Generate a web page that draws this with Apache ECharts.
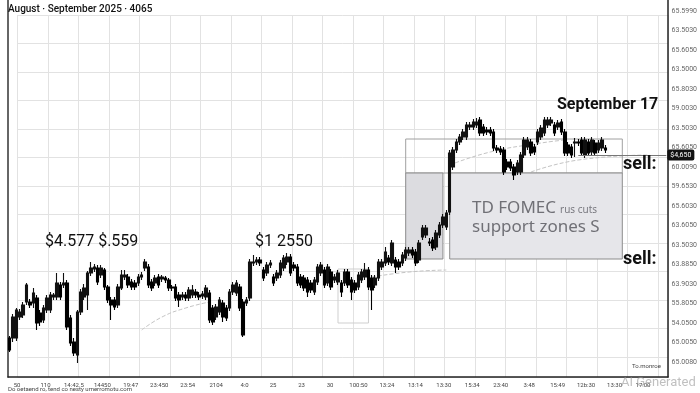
<!DOCTYPE html>
<html><head><meta charset="utf-8">
<script src="https://cdn.jsdelivr.net/npm/echarts@6/dist/echarts.min.js"></script>
<style>html,body{margin:0;padding:0;background:#fff}#c{width:700px;height:393px}</style>
</head><body><div id="c"></div>
<script>
// ---- data ----
const opens=[4284,4284,4284,4326,4330,4356,4356,4354,4364,4334,
4320,4340,4340,4366,4366,4390,4390,4394,4324,4276,
4250,4336,4366,4370,4414,4422,4424,4410,4420,4386,
4360,4360,4350,4384,4406,4406,4396,4394,4394,4406,
4424,4426,4396,4394,4406,4402,4404,4400,4386,4386,
4370,4366,4370,4364,4370,4376,4370,4368,4366,4374,
4344,4326,4336,4354,4344,4344,4376,4374,4386,4356,
4354,4364,4434,4436,4440,4420,4414,4430,4406,4404,
4410,4424,4436,4446,4430,4426,4406,4404,4400,4394,
4376,4396,4414,4420,4394,4416,4400,4396,4394,4394,
4416,4400,4394,4386,4400,4406,4420,4404,4390,4404,
4426,4434,4444,4434,4440,4436,4434,4444,4454,4460,
4456,4440,4486,4490,4476,4480,4466,4490,4510,4506,
4536,4626,4660,4676,4686,4686,4706,4706,4710,4720,
4706,4700,4700,4696,4664,4662,4660,4636,4636,4626,
4616,4616,4650,4666,4676,4666,4676,4686,4694,4710,
4714,4710,4706,4716,4696,4670,4666,4674,4676,4680,
4650,4676,4656,4674,4660,4664,4664];
const closes=[4260,4326,4340,4336,4350,4390,4350,4374,4314,4316,
4344,4364,4370,4370,4394,4366,4394,4306,4274,4254,
4336,4376,4384,4414,4424,4426,4396,4424,4386,4360,
4350,4346,4386,4410,4410,4390,4386,4386,4406,4410,
4436,4390,4384,4404,4390,4406,4400,4384,4384,4364,
4360,4370,4364,4380,4380,4370,4366,4372,4384,4320,
4316,4346,4360,4326,4324,4376,4390,4394,4344,4290,
4360,4436,4436,4440,4434,4404,4430,4434,4394,4414,
4434,4444,4446,4414,4424,4394,4390,4384,4376,4380,
4400,4426,4430,4390,4426,4386,4406,4414,4376,4416,
4390,4376,4380,4410,4416,4420,4386,4380,4404,4436,
4436,4456,4436,4474,4426,4426,4450,4460,4460,4450,
4434,4474,4504,4504,4474,4464,4494,4510,4526,4534,
4654,4660,4676,4686,4696,4710,4710,4716,4716,4694,
4694,4696,4694,4664,4660,4656,4616,4626,4624,4610,
4634,4650,4680,4680,4654,4656,4696,4704,4720,4720,
4720,4694,4714,4696,4654,4654,4650,4676,4674,4654,
4680,4654,4680,4654,4674,4680,4660];
const lows=[4256,4276,4278,4320,4324,4350,4344,4344,4300,4308,
4314,4334,4334,4360,4360,4360,4384,4300,4268,4248,
4234,4330,4360,4340,4408,4416,4390,4404,4380,4354,
4320,4340,4344,4380,4400,4384,4380,4380,4388,4400,
4418,4384,4378,4388,4384,4396,4394,4378,4378,4358,
4346,4360,4358,4358,4364,4364,4360,4362,4360,4314,
4310,4320,4330,4316,4318,4338,4370,4368,4338,4286,
4348,4358,4428,4430,4428,4398,4408,4424,4388,4398,
4404,4418,4430,4408,4418,4388,4384,4378,4366,4374,
4370,4390,4408,4384,4388,4380,4394,4390,4366,4388,
4384,4360,4374,4380,4394,4400,4380,4340,4384,4398,
4420,4428,4430,4428,4414,4420,4428,4438,4448,4444,
4428,4434,4480,4484,4468,4458,4460,4484,4504,4500,
4530,4620,4654,4670,4680,4680,4700,4700,4704,4688,
4688,4690,4688,4658,4654,4650,4610,4620,4618,4600,
4610,4610,4644,4660,4648,4650,4670,4680,4688,4704,
4708,4688,4700,4690,4648,4648,4644,4646,4668,4648,
4644,4648,4650,4648,4654,4658,4654];
const highs=[4288,4332,4344,4342,4356,4394,4362,4384,4370,4340,
4350,4370,4376,4374,4414,4396,4414,4400,4330,4284,
4340,4382,4392,4418,4436,4432,4430,4430,4424,4390,
4366,4366,4392,4420,4420,4412,4402,4400,4412,4416,
4442,4432,4402,4410,4412,4410,4408,4404,4390,4392,
4376,4376,4376,4386,4390,4382,4376,4378,4390,4380,
4350,4352,4366,4360,4350,4382,4396,4400,4392,4362,
4366,4442,4450,4446,4446,4426,4436,4440,4412,4420,
4440,4450,4454,4452,4436,4432,4412,4410,4406,4400,
4406,4432,4436,4426,4432,4422,4412,4420,4400,4422,
4422,4406,4400,4416,4422,4434,4426,4410,4410,4442,
4442,4466,4450,4480,4446,4442,4456,4466,4466,4466,
4462,4480,4510,4510,4484,4486,4500,4516,4532,4540,
4660,4666,4682,4692,4702,4716,4716,4722,4724,4726,
4712,4706,4706,4702,4670,4668,4666,4642,4642,4632,
4640,4656,4686,4686,4682,4672,4702,4710,4726,4726,
4726,4716,4720,4722,4702,4676,4672,4684,4682,4686,
4686,4682,4686,4680,4680,4686,4670];
const tailSlots=18; // empty sessions to the right of the last candle
const priceMin=4206, priceMax=4960;
const rightTickLabels=["65.5990","63.5030","65.6050","63.5000","65.8030","59.0030","63.5030","65.6050","60.0090","59.6530","65.6030","63.6050","63.5030","63.8850","63.9030","55.8050","54.0500","65.0050","65.0080"];
const bottomTickLabels=["50","110","14:42.5","14450","19:47","23:450","23:54","2104","4:0","25","23","30","100:50","13:24","13:14","13:30","15:34","23:40","3:48","15:49","12b:30","13:30","17:00"];
const maA=[[39,4300],[45,4326],[52,4344],[59,4356]];
const maB=[[107,4406],[118,4416],[129,4420]];
const maC=[[130,4630],[142,4656],[157,4674],[164,4680]];
const maD=[[154,4616],[168,4640],[189,4650]];
const sellLevel=4650, sellFrom=168, sellTo=194;

const categories=[];
for(let i=0;i<opens.length+tailSlots;i++) categories.push('D'+(i+1));
const ohlc=opens.map((o,i)=>[o,closes[i],lows[i],highs[i]]);

const chart=echarts.init(document.getElementById('c'));
const txt=(t,l,tp,size,opt)=>Object.assign({type:'text',left:l,top:tp,z:50,style:Object.assign({text:t,fontSize:size,fontFamily:'Roboto',fill:'#111'},opt||{})});
const dashed=(d)=>({type:'line',xAxisIndex:0,yAxisIndex:0,data:d,smooth:true,symbol:'none',silent:true,lineStyle:{color:'#c4c4c4',width:1,type:'dashed'},z:1});

chart.setOption({
  animation:false,
  backgroundColor:'#fff',
  grid:[
    {left:8,right:32,top:0,bottom:16},
    {left:17.5,right:32,top:15,bottom:16},
    {left:8,right:32,top:11,bottom:31},
    {left:17,right:57,top:0,bottom:16}
  ],
  xAxis:[
    {type:'category',gridIndex:0,data:categories,boundaryGap:true,axisLine:{show:true,lineStyle:{color:'#222',width:1.5}},axisTick:{show:false},axisLabel:{show:false},splitLine:{show:false}},
    {type:'value',gridIndex:1,min:0,max:650.5,interval:30.5,axisLine:{show:false},axisTick:{show:false},axisLabel:{show:false},splitLine:{show:true,lineStyle:{color:'#e2e2e2',width:1}}},
    {type:'value',gridIndex:2,min:0,max:1,show:false},
    {type:'value',gridIndex:3,min:0,max:22,interval:1,axisLine:{show:false},axisTick:{show:false},splitLine:{show:false},
      axisLabel:{show:true,margin:5,fontSize:6,color:'#444',fontFamily:'Roboto',formatter:(v)=>bottomTickLabels[Math.round(v)]||''}}
  ],
  yAxis:[
    {type:'value',gridIndex:0,position:'left',min:priceMin,max:priceMax,axisLine:{show:true,lineStyle:{color:'#333',width:1.5}},axisTick:{show:false},axisLabel:{show:false},splitLine:{show:false}},
    {type:'value',gridIndex:0,position:'right',min:priceMin,max:priceMax,axisLine:{show:true,lineStyle:{color:'#222',width:1.5}},axisTick:{show:false},axisLabel:{show:false},splitLine:{show:false}},
    {type:'value',gridIndex:1,inverse:true,min:0,max:362,interval:28.5,axisLine:{show:false},axisTick:{show:false},axisLabel:{show:false},splitLine:{show:true,lineStyle:{color:'#e2e2e2',width:1}}},
    {type:'value',gridIndex:2,position:'right',inverse:true,min:0,max:18,interval:1,axisLine:{show:false},axisTick:{show:false},splitLine:{show:false},
      axisLabel:{show:true,margin:4,fontSize:7,color:'#666',fontFamily:'Roboto',formatter:(v)=>rightTickLabels[Math.round(v)]||''}},
    {type:'value',gridIndex:3,show:false}
  ],
  series:[
    dashed(maA),dashed(maB),dashed(maC),dashed(maD),
    {
      type:'candlestick',xAxisIndex:0,yAxisIndex:0,data:ohlc,barWidth:3,z:5,
      itemStyle:{color:'#111',color0:'#000',borderColor:'#111',borderColor0:'#000',borderWidth:1.1},
      markArea:{silent:true,z:2,data:[
        [{xAxis:117,yAxis:4682,itemStyle:{color:'rgba(255,255,255,0)',borderColor:'#a0a0a0',borderWidth:1}},{xAxis:181,yAxis:4614}],
        [{xAxis:117,yAxis:4614,itemStyle:{color:'#dcdce0',borderColor:'#8c8c8c',borderWidth:1}},{xAxis:128,yAxis:4442}],
        [{xAxis:130,yAxis:4614,itemStyle:{color:'#e6e6ea',borderColor:'#8c8c8c',borderWidth:1}},{xAxis:181,yAxis:4442}],
        [{xAxis:97,yAxis:4422,itemStyle:{color:'rgba(255,255,255,0)',borderColor:'#cfcfcf',borderWidth:1}},{xAxis:106,yAxis:4314}]
      ]},
      markLine:{silent:true,symbol:'none',z:6,data:[
        [{coord:[sellFrom,sellLevel],lineStyle:{color:'#777',width:1,type:'solid'}},{coord:[sellTo,sellLevel],
          label:{show:true,position:'end',distance:1,formatter:'$4,650',color:'#fff',backgroundColor:'#111',padding:[2,3],borderRadius:2,fontSize:7,fontFamily:'Roboto'}}]
      ]}
    }
  ],
  graphic:[
    txt('August · September 2025 · 4065',8,4,10,{fontWeight:500}),
    txt('$4.577 $.559',45,234,16),
    txt('$1 2550',255,234,16),
    txt('September 17',557,97,16,{fontWeight:'bold'}),
    txt('sell:',623,155,18,{fontWeight:'bold'}),
    txt('sell:',623,250,18,{fontWeight:'bold'}),
    txt('TD FOMEC',472,200,17,{fill:'#707076',fontFamily:'Noto Sans'}),
    txt('rus cuts',560,205,10,{fill:'#7a7a80',fontFamily:'Noto Sans'}),
    txt('support zones S',472,219,17,{fill:'#707076',fontFamily:'Noto Sans'}),
    txt('To.monroe',632,363,6,{fill:'#444'}),
    txt('Do oetaend ro, tend co nesty umerromotu.com',8,386,6,{fill:'#444'}),
    txt('AI Generated',621,376,13,{fill:'rgba(150,150,150,0.6)'})
  ]
});
</script></body></html>
